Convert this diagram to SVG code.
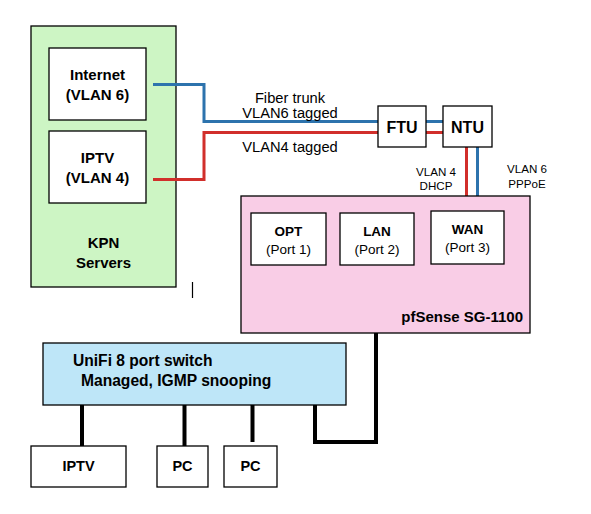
<svg xmlns="http://www.w3.org/2000/svg" width="591" height="514" viewBox="0 0 591 514">
<style>
.box{stroke:#000;stroke-width:1.3}
.w{fill:#fff}
.t{font-family:"Liberation Sans",Arial,sans-serif;fill:#000}
.b{font-weight:bold}
.blue{stroke:#2d73ad;stroke-width:3;fill:none}
.red{stroke:#d12f2b;stroke-width:3;fill:none}
.blk{stroke:#000;stroke-width:4;fill:none}
</style>
<rect width="591" height="514" fill="#fff"/>
<g id="kpn">
<rect class="box" x="31" y="26" width="145" height="261" fill="#cdf5c4"/>
<text class="t b" x="103.5" y="248" font-size="15" text-anchor="middle">KPN</text>
<text class="t b" x="103.5" y="268" font-size="15" text-anchor="middle">Servers</text>
</g>
<g id="internet">
<rect class="box w" x="49" y="48" width="97" height="72"/>
<text class="t b" x="97.5" y="80" font-size="15" text-anchor="middle">Internet</text>
<text class="t b" x="97.5" y="100" font-size="15" text-anchor="middle">(VLAN 6)</text>
</g>
<g id="iptv-src">
<rect class="box w" x="49" y="131" width="97" height="72"/>
<text class="t b" x="97.5" y="163" font-size="15" text-anchor="middle">IPTV</text>
<text class="t b" x="97.5" y="183" font-size="15" text-anchor="middle">(VLAN 4)</text>
</g>
<g id="connectors">
<polyline class="blue" points="153,84.5 204,84.5 204,121.5 378,121.5"/>
<polyline class="red" points="153,179.5 204,179.5 204,132.5 378,132.5"/>
<line class="blue" x1="426" y1="121.5" x2="443" y2="121.5"/>
<line class="red" x1="426" y1="132.5" x2="443" y2="132.5"/>
<line class="red" x1="466.5" y1="147" x2="466.5" y2="211"/>
<line class="blue" x1="477.5" y1="147" x2="477.5" y2="211"/>
<polyline class="blk" points="376,333 376,442 315,442 315,405"/>
<line class="blk" x1="82" y1="405" x2="82" y2="446"/>
<line class="blk" x1="184.5" y1="405" x2="184.5" y2="446"/>
<line class="blk" x1="252.5" y1="405" x2="252.5" y2="442"/>
<line stroke="#000" stroke-width="1.2" x1="192.5" y1="282" x2="192.5" y2="298"/>
</g>
<g id="labels">
<text class="t" x="290" y="103" font-size="14.7" text-anchor="middle">Fiber trunk</text>
<text class="t" x="290" y="118" font-size="14.7" text-anchor="middle">VLAN6 tagged</text>
<text class="t" x="290" y="152" font-size="14.7" text-anchor="middle">VLAN4 tagged</text>
<text class="t" x="436" y="176" font-size="11.6" text-anchor="middle">VLAN 4</text>
<text class="t" x="436" y="190" font-size="11.6" text-anchor="middle">DHCP</text>
<text class="t" x="527" y="173" font-size="11.6" text-anchor="middle">VLAN 6</text>
<text class="t" x="527" y="188" font-size="11.6" text-anchor="middle">PPPoE</text>
</g>
<g id="ftu">
<rect class="box w" x="378" y="106" width="48" height="41"/>
<text class="t b" x="402" y="133" font-size="16" text-anchor="middle">FTU</text>
</g>
<g id="ntu">
<rect class="box w" x="443" y="106" width="49" height="41"/>
<text class="t b" x="467.5" y="133" font-size="16" text-anchor="middle">NTU</text>
</g>
<g id="pfsense">
<rect class="box" x="241" y="196" width="289" height="137" fill="#f9cde6"/>
<text class="t b" x="523" y="322" font-size="15" text-anchor="end">pfSense SG-1100</text>
</g>
<g id="opt">
<rect class="box w" x="251" y="213" width="75" height="52"/>
<text class="t b" x="288.5" y="236" font-size="13.5" text-anchor="middle">OPT</text>
<text class="t" x="288.5" y="254" font-size="13.5" text-anchor="middle">(Port 1)</text>
</g>
<g id="lan">
<rect class="box w" x="340" y="213" width="74" height="52"/>
<text class="t b" x="377" y="236" font-size="13.5" text-anchor="middle">LAN</text>
<text class="t" x="377" y="254" font-size="13.5" text-anchor="middle">(Port 2)</text>
</g>
<g id="wan">
<rect class="box w" x="431" y="211" width="73" height="53"/>
<text class="t b" x="467.5" y="234" font-size="13.5" text-anchor="middle">WAN</text>
<text class="t" x="467.5" y="252" font-size="13.5" text-anchor="middle">(Port 3)</text>
</g>
<g id="switch">
<rect class="box" x="43" y="343" width="303" height="62" fill="#bee6f8"/>
<text class="t b" x="73" y="366" font-size="15.6">UniFi 8 port switch</text>
<text class="t b" x="81" y="386" font-size="15.6">Managed, IGMP snooping</text>
</g>
<g id="iptv">
<rect class="box w" x="31" y="446" width="95" height="41"/>
<text class="t b" x="78.5" y="471" font-size="14.5" text-anchor="middle">IPTV</text>
</g>
<g id="pc1">
<rect class="box w" x="157" y="446" width="51" height="41"/>
<text class="t b" x="182.5" y="471" font-size="14.5" text-anchor="middle">PC</text>
</g>
<g id="pc2">
<rect class="box w" x="224" y="446" width="53" height="41"/>
<text class="t b" x="250.5" y="471" font-size="14.5" text-anchor="middle">PC</text>
</g>
</svg>
